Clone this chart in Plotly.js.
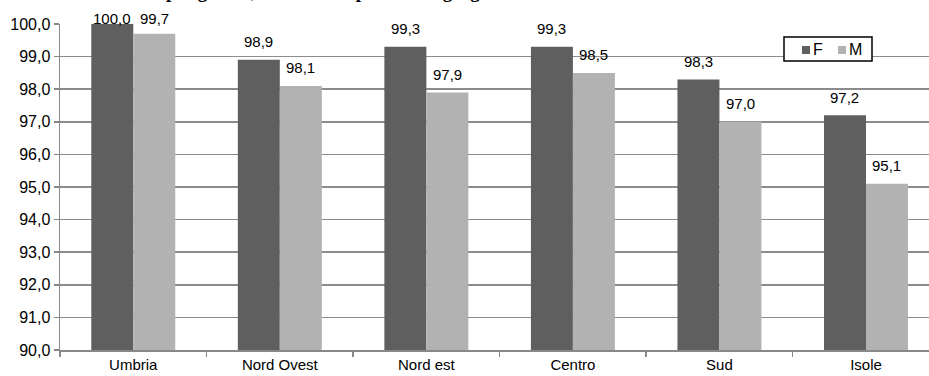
<!DOCTYPE html>
<html>
<head>
<meta charset="utf-8">
<script src="https://cdn.plot.ly/plotly-3.0.1.min.js"></script>
<style>
html,body{margin:0;padding:0;overflow:hidden;background:#fff;}
#chart{width:929px;height:376px;}
</style>
</head>
<body>
<div id="chart"></div>
<script>
const categories = ["Umbria", "Nord Ovest", "Nord est", "Centro", "Sud", "Isole"];
const valuesF = [100.0, 98.9, 99.3, 99.3, 98.3, 97.2];
const valuesM = [99.7, 98.1, 97.9, 98.5, 97.0, 95.1];
const seriesNames = ["F", "M"];
const seriesColors = ["#5f5f5f", "#b2b2b2"];
const yTicks = [90, 91, 92, 93, 94, 95, 96, 97, 98, 99, 100];
const titleText = "per genere, Umbria e ripartizione geografica";

const fmt = v => v.toFixed(1).replace('.', ',');

const W = 929, H = 376;
const plotLeft = 60, plotRight = 929, plotTop = 24, plotBottom = 350, yMin = 90, yMax = 100;
const pxPerUnit = (plotBottom - plotTop) / (yMax - yMin);
const px2x = p => (p - plotLeft) / (plotRight - plotLeft);
const px2y = p => (plotBottom - p) / (plotBottom - plotTop);

const traces = [
  {type: 'bar', name: seriesNames[0], x: categories, y: valuesF, marker: {color: seriesColors[0]}, showlegend: false},
  {type: 'bar', name: seriesNames[1], x: categories, y: valuesM, marker: {color: seriesColors[1]}, showlegend: false}
];

const annotations = [];
[[valuesF, -21], [valuesM, 21]].forEach(([vals, xs]) => {
  vals.forEach((v, i) => {
    const ypx = plotBottom - (v - yMin) * pxPerUnit;
    const shift = Math.min(18, ypx - 18);
    annotations.push({
      x: categories[i], y: v, xref: 'x', yref: 'y',
      text: fmt(v), showarrow: false, xshift: xs, yshift: shift,
      yanchor: 'middle', xanchor: 'center',
      font: {family: 'Liberation Sans, Arial, sans-serif', size: 15, color: '#000'}
    });
  });
});
annotations.push({
  xref: 'paper', yref: 'paper', x: 0.12, y: 1.062, xanchor: 'left', yanchor: 'bottom',
  text: '<b>' + titleText + '</b>', showarrow: false,
  font: {family: 'Liberation Serif, Times New Roman, serif', size: 19, color: '#000'}
});

// custom legend box (Excel style)
const shapes = [
  {type: 'rect', xref: 'paper', yref: 'paper', x0: px2x(784), x1: px2x(872), y0: px2y(61), y1: px2y(37),
   line: {color: '#000', width: 1.5}, fillcolor: '#fff', layer: 'above'}
];
const legendSquares = [802, 838];
const legendTexts = [812, 848];
seriesNames.forEach((n, k) => {
  shapes.push({type: 'rect', xref: 'paper', yref: 'paper',
    x0: px2x(legendSquares[k]), x1: px2x(legendSquares[k] + 8), y0: px2y(54), y1: px2y(46),
    line: {width: 0}, fillcolor: seriesColors[k], layer: 'above'});
  annotations.push({xref: 'paper', yref: 'paper', x: px2x(legendTexts[k] - 1), y: px2y(49.5),
    xanchor: 'left', yanchor: 'middle', text: n, showarrow: false,
    font: {family: 'Liberation Sans, Arial, sans-serif', size: 16, color: '#000'}});
});

const layout = {
  width: W, height: H,
  margin: {l: plotLeft, r: W - plotRight, t: plotTop, b: H - plotBottom, pad: 0},
  paper_bgcolor: '#fff', plot_bgcolor: '#fff',
  separators: ',.',
  barmode: 'group', bargap: 0.427, bargroupgap: 0,
  font: {family: 'Liberation Sans, Arial, sans-serif', size: 15, color: '#000'},
  xaxis: {
    type: 'category', range: [-0.5, 5.43], tickson: 'boundaries',
    ticks: 'outside', ticklen: 5, tickcolor: '#888', tickwidth: 1.5,
    showline: true, linecolor: '#888', linewidth: 1.5,
    showgrid: false, zeroline: false,
    tickfont: {size: 15}, fixedrange: true
  },
  yaxis: {
    range: [yMin, yMax], tickvals: yTicks, ticktext: yTicks.map(fmt),
    ticks: 'outside', ticklen: 5, tickcolor: '#888', tickwidth: 1.5,
    showline: true, linecolor: '#888', linewidth: 1.5,
    showgrid: true, gridcolor: '#8c8c8c', gridwidth: 1.5,
    zeroline: false, tickfont: {size: 16}, fixedrange: true
  },
  showlegend: false,
  shapes: shapes,
  annotations: annotations
};

Plotly.newPlot('chart', traces, layout, {displayModeBar: false, staticPlot: true});
</script>
</body>
</html>
